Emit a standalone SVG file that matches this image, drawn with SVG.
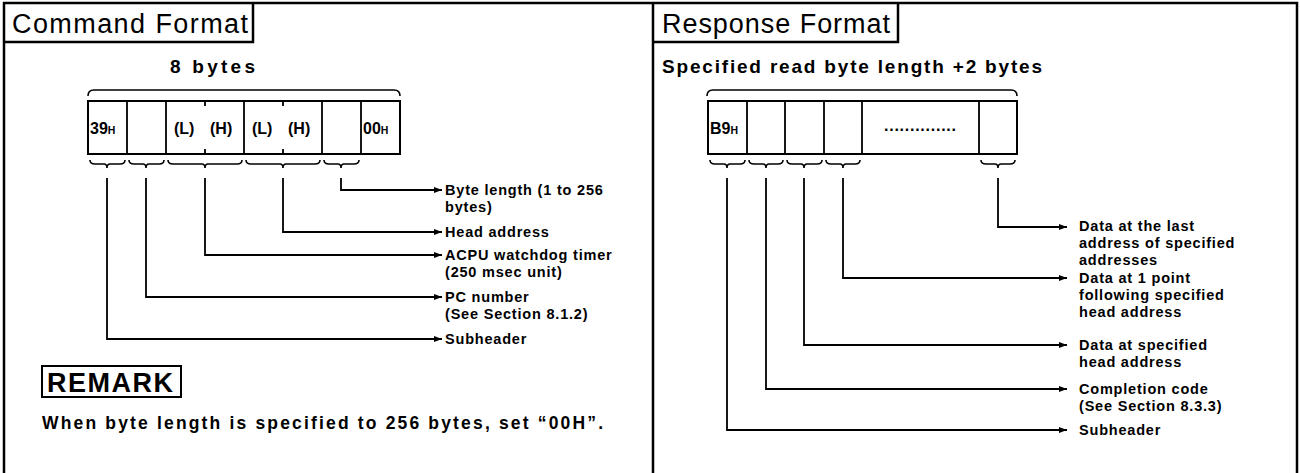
<svg xmlns="http://www.w3.org/2000/svg" width="1300" height="473" viewBox="0 0 1300 473">
<style>
.frame{fill:none;stroke:#000;stroke-width:2.5}
.box{fill:#fff;stroke:#000;stroke-width:2}
.ln{fill:none;stroke:#000;stroke-width:1.8}
.br{fill:none;stroke:#000;stroke-width:1.6}
.conn{fill:none;stroke:#000;stroke-width:1.8;marker-end:url(#arr)}
.title{font-family:"Liberation Sans",Arial,sans-serif;font-size:27px;fill:#000}
.head{font-family:"Liberation Sans",Arial,sans-serif;font-size:19px;font-weight:bold;fill:#000}
.lbl{font-family:"Liberation Sans",Arial,sans-serif;font-size:14.5px;font-weight:bold;fill:#000;letter-spacing:0.8px}
.cell{font-family:"Liberation Sans",Arial,sans-serif;font-size:16px;font-weight:bold;fill:#000}
.sub{font-size:10.5px}
.rem{font-family:"Liberation Sans",Arial,sans-serif;font-size:27px;font-weight:bold;fill:#000}
.note{font-family:"Liberation Sans",Arial,sans-serif;font-size:17.5px;font-weight:bold;fill:#000}
</style>
<defs>
<marker id="arr" viewBox="0 0 8 6" refX="8" refY="3" markerWidth="8" markerHeight="6" markerUnits="userSpaceOnUse" orient="auto">
<path d="M0,0 L8,3 L0,6 Z" fill="#000"/>
</marker>
</defs>
<rect width="1300" height="473" fill="#fff"/>
<g id="frame">
<path class="frame" d="M4,473 L4,3 L1297,3 L1297,473"/>
<path class="frame" d="M653,3 L653,473"/>
</g>
<g id="cmd-title">
<path class="frame" d="M4,42 L253,42 L253,3"/>
<text class="title" x="12" y="33" textLength="236" lengthAdjust="spacing">Command Format</text>
</g>
<g id="resp-title">
<path class="frame" d="M653,42 L898,42 L898,3"/>
<text class="title" x="662" y="33" textLength="228" lengthAdjust="spacing">Response Format</text>
</g>
<g id="cmd-frame">
<text class="head" x="170" y="73" textLength="85" lengthAdjust="spacing">8 bytes</text>
<path class="br" d="M88,96 Q88,90 94,90 L394,90 Q400,90 400,96"/>
<rect class="box" x="88" y="101" width="312" height="53"/>
<path class="ln" d="M127,101 V154 M166,101 V154 M244,101 V154 M322,101 V154 M361,101 V154 M205,101 V106 M205,149 V154 M283,101 V106 M283,149 V154"/>
<text class="cell" x="90" y="134">39<tspan class="sub">H</tspan></text>
<text class="cell" x="174" y="134">(L)</text>
<text class="cell" x="210" y="134">(H)</text>
<text class="cell" x="252" y="134">(L)</text>
<text class="cell" x="288" y="134">(H)</text>
<text class="cell" x="363" y="134">00<tspan class="sub">H</tspan></text>
<path class="br" d="M90,160 Q90,164 95,164 L104,164 Q107,164 107,168 Q107,164 110,164 L120,164 Q125,164 125,160"/>
<path class="br" d="M129,160 Q129,164 134,164 L143,164 Q146,164 146,168 Q146,164 149,164 L159,164 Q164,164 164,160"/>
<path class="br" d="M168,160 Q168,164 173,164 L202,164 Q205,164 205,168 Q205,164 208,164 L237,164 Q242,164 242,160"/>
<path class="br" d="M246,160 Q246,164 251,164 L280,164 Q283,164 283,168 Q283,164 286,164 L315,164 Q320,164 320,160"/>
<path class="br" d="M324,160 Q324,164 329,164 L338,164 Q341,164 341,168 Q341,164 344,164 L354,164 Q359,164 359,160"/>
</g>
<g id="cmd-labels">
<text class="lbl" x="445" y="195">Byte length (1 to 256</text>
<text class="lbl" x="445" y="212">bytes)</text>
<text class="lbl" x="445" y="237">Head address</text>
<text class="lbl" x="445" y="260">ACPU watchdog timer</text>
<text class="lbl" x="445" y="277">(250 msec unit)</text>
<text class="lbl" x="445" y="302">PC number</text>
<text class="lbl" x="445" y="319">(See Section 8.1.2)</text>
<text class="lbl" x="445" y="344">Subheader</text>
</g>
<g id="remark">
<rect class="box" x="42" y="366" width="139" height="31"/>
<text class="rem" x="47" y="392" textLength="126" lengthAdjust="spacing">REMARK</text>
<text class="note" x="42" y="429" textLength="561" lengthAdjust="spacing">When byte length is specified to 256 bytes, set “00H”.</text>
</g>
<g id="resp-frame">
<text class="head" x="662" y="73" textLength="380" lengthAdjust="spacing">Specified read byte length +2 bytes</text>
<path class="br" d="M707,96 Q707,90 713,90 L1011,90 Q1017,90 1017,96"/>
<rect class="box" x="708" y="101" width="309" height="53"/>
<path class="ln" d="M747,101 V154 M785,101 V154 M824,101 V154 M862,101 V154 M979,101 V154"/>
<text class="cell" x="710" y="134">B9<tspan class="sub">H</tspan></text>
<text class="cell" x="884" y="131" textLength="72" lengthAdjust="spacing">..............</text>
<path class="br" d="M710,160 Q710,164 715,164 L724,164 Q727,164 727,168 Q727,164 730,164 L740,164 Q745,164 745,160"/>
<path class="br" d="M749,160 Q749,164 754,164 L763,164 Q766,164 766,168 Q766,164 769,164 L778,164 Q783,164 783,160"/>
<path class="br" d="M787,160 Q787,164 792,164 L801,164 Q804,164 804,168 Q804,164 807,164 L817,164 Q822,164 822,160"/>
<path class="br" d="M826,160 Q826,164 831,164 L840,164 Q843,164 843,168 Q843,164 846,164 L855,164 Q860,164 860,160"/>
<path class="br" d="M981,160 Q981,164 986,164 L995,164 Q998,164 998,168 Q998,164 1001,164 L1010,164 Q1015,164 1015,160"/>
</g>
<g id="resp-labels">
<text class="lbl" x="1079" y="231">Data at the last</text>
<text class="lbl" x="1079" y="248">address of specified</text>
<text class="lbl" x="1079" y="265">addresses</text>
<text class="lbl" x="1079" y="283">Data at 1 point</text>
<text class="lbl" x="1079" y="300">following specified</text>
<text class="lbl" x="1079" y="317">head address</text>
<text class="lbl" x="1079" y="350">Data at specified</text>
<text class="lbl" x="1079" y="367">head address</text>
<text class="lbl" x="1079" y="394">Completion code</text>
<text class="lbl" x="1079" y="411">(See Section 8.3.3)</text>
<text class="lbl" x="1079" y="435">Subheader</text>
</g>
<g id="connectors">
<path class="conn" d="M341,178 V190 H442"/>
<path class="conn" d="M283,178 V232 H442"/>
<path class="conn" d="M205,178 V255 H442"/>
<path class="conn" d="M146,178 V297 H442"/>
<path class="conn" d="M107,178 V339 H442"/>
<path class="conn" d="M998,178 V227 H1067"/>
<path class="conn" d="M843,178 V278 H1067"/>
<path class="conn" d="M804,178 V345 H1067"/>
<path class="conn" d="M766,178 V389 H1067"/>
<path class="conn" d="M727,178 V430 H1067"/>
</g>
</svg>
